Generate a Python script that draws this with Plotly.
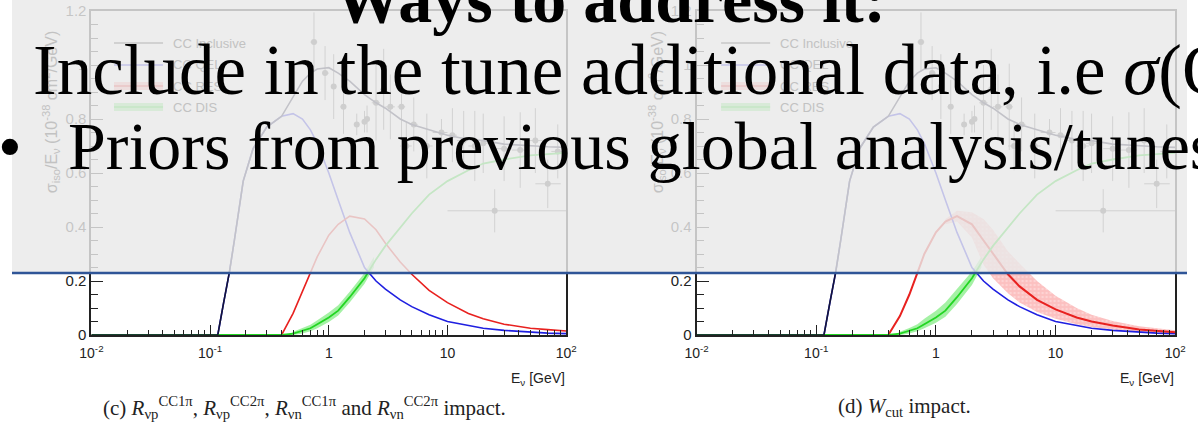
import plotly.graph_objects as go

# ---------------- model curves (sigma/E, 1e-38 cm^2/GeV) ----------------
energy = [0.01, 0.1, 0.116, 0.13, 0.145, 0.16, 0.19, 0.23, 0.3, 0.4, 0.5, 0.6, 0.7, 0.8,
          1.0, 1.2, 1.5, 2, 2.5, 3, 4, 5, 7, 10, 15, 20, 30, 50, 70, 100]
cc_inclusive = [0, 0, 0, 0.12, 0.23, 0.35, 0.57, 0.69, 0.77, 0.81, 0.88, 0.94, 0.97, 0.985,
                0.99, 0.97, 0.94, 0.89, 0.86, 0.84, 0.80, 0.78, 0.76, 0.74, 0.724, 0.72, 0.707, 0.70, 0.697, 0.695]
cc_qel = [0, 0, 0, 0.12, 0.23, 0.35, 0.57, 0.69, 0.77, 0.81, 0.82, 0.80, 0.76, 0.71,
          0.60, 0.50, 0.38, 0.25, 0.20, 0.17, 0.13, 0.105, 0.075, 0.05, 0.034, 0.025, 0.017, 0.01, 0.007, 0.005]
cc_res = [0, 0, 0, 0, 0, 0, 0, 0, 0, 0, 0.08, 0.16, 0.23, 0.29,
          0.37, 0.41, 0.44, 0.43, 0.39, 0.34, 0.27, 0.225, 0.165, 0.12, 0.08, 0.06, 0.04, 0.025, 0.02, 0.015]
cc_dis = [0, 0, 0, 0, 0, 0, 0, 0, 0, 0, 0.005, 0.015, 0.025, 0.04,
          0.065, 0.09, 0.14, 0.21, 0.28, 0.33, 0.40, 0.45, 0.52, 0.57, 0.61, 0.635, 0.65, 0.665, 0.67, 0.675]
# resonance curve with the W_cut variation
cc_res_wcut = [0, 0, 0, 0, 0, 0, 0, 0, 0, 0, 0.07, 0.15, 0.23, 0.30,
               0.38, 0.42, 0.44, 0.41, 0.35, 0.30, 0.225, 0.18, 0.13, 0.095, 0.065, 0.05, 0.035, 0.02, 0.014, 0.01]

# uncertainty bands
dis_band_e = [0.45, 0.5, 0.6, 0.7, 0.8, 1.0, 1.2, 1.5, 2, 2.4]
dis_band_lo_c = [0, 0.0, 0.006, 0.014, 0.025, 0.048, 0.072, 0.12, 0.19, 0.25]
dis_band_hi_c = [0, 0.012, 0.026, 0.038, 0.055, 0.083, 0.11, 0.16, 0.23, 0.29]
dis_band_lo_d = [0, 0.0, 0.006, 0.014, 0.025, 0.045, 0.068, 0.115, 0.185, 0.25]
dis_band_hi_d = [0, 0.012, 0.026, 0.04, 0.06, 0.09, 0.12, 0.17, 0.235, 0.29]
res_band_e = [1.2, 1.5, 2, 2.5, 3, 4, 5, 7, 10, 15, 20, 30, 50, 70, 100]
res_band_lo = [0.41, 0.42, 0.36, 0.26, 0.21, 0.155, 0.12, 0.085, 0.06, 0.04, 0.03, 0.02, 0.012, 0.008, 0.005]
res_band_hi = [0.43, 0.46, 0.455, 0.43, 0.39, 0.31, 0.265, 0.20, 0.145, 0.10, 0.075, 0.052, 0.032, 0.024, 0.018]

# ---------------- measurements ----------------
data_e = [0.75, 0.93, 1.1, 1.33, 1.72, 2.0, 2.1, 2.5, 2.9, 3.3, 4.1, 4.5, 5.2, 6.7, 8.9,
          11, 13.7, 17, 20, 25, 30, 41, 55, 70, 85]
data_sigma = [1.085, 0.97, 0.92, 0.845, 0.78, 0.79, 0.80, 0.86, 0.91, 0.845, 0.845, 0.70, 0.78, 0.70, 0.75,
              0.74, 0.72, 0.70, 0.71, 0.46, 0.69, 0.685, 0.72, 0.56, 0.68]
data_err = [0.11, 0.10, 0.12, 0.10, 0.04, 0.04, 0.05, 0.14, 0.15, 0.12, 0.16, 0.09, 0.10, 0.12, 0.05,
            0.10, 0.11, 0.13, 0.11, 0.08, 0.12, 0.14, 0.12, 0.09, 0.10]
data_e_low = [0.7, 0.88, 1.05, 1.25, 1.65, 1.9, 2.0, 2.3, 2.7, 3.0, 3.8, 4.0, 4.8, 6.0, 7.5,
              10, 12, 15, 18, 10, 25, 35, 45, 55, 75]
data_e_high = [0.8, 1.0, 1.15, 1.4, 1.8, 2.1, 2.2, 2.7, 3.1, 3.6, 4.4, 5.0, 5.6, 7.5, 10,
               12, 15, 19, 22, 100, 35, 48, 65, 90, 100]

x_tickvals = [0.01, 0.1, 1, 10, 100]
x_ticktext = ["10<sup>-2</sup>", "10<sup>-1</sup>", "1", "10", "10<sup>2</sup>"]
y_tickvals = [0, 0.2, 0.4, 0.6, 0.8, 1.0, 1.2]
y_ticktext = ["0", "0.2", "0.4", "0.6", "0.8", "1", "1.2"]
minor_x = [m * 10 ** k for k in (-2, -1, 0, 1) for m in range(2, 10)]

legend_names = ["CC Inclusive", "CC QEL", "CC RES", "CC DIS"]

BLUE = "#1f1fe0"
RED = "#e8211f"
GREEN = "#22d622"
BLACK = "#151535"

W, H = 1198, 431
TOP, BOTTOM = 11, 335


def px(x):
    return x / W


def py(y):
    return (BOTTOM - y) / (BOTTOM - TOP)


fig = go.Figure()


def add_panel(xa, ya, res, res_band, dis_lo, dis_hi):
    # measurements
    fig.add_trace(go.Scatter(
        x=data_e, y=data_sigma, mode="markers", xaxis=xa, yaxis=ya,
        marker=dict(color="#555555", size=6),
        error_y=dict(type="data", array=data_err, color="#666666", thickness=1, width=0),
        error_x=dict(type="data", symmetric=False,
                     array=[h - e for h, e in zip(data_e_high, data_e)],
                     arrayminus=[e - l for e, l in zip(data_e, data_e_low)],
                     color="#666666", thickness=1, width=0),
    ))
    if res_band:
        fig.add_trace(go.Scatter(x=res_band_e, y=res_band_lo, mode="lines", xaxis=xa, yaxis=ya,
                                 line=dict(width=0), hoverinfo="skip"))
        fig.add_trace(go.Scatter(x=res_band_e, y=res_band_hi, mode="lines", xaxis=xa, yaxis=ya,
                                 line=dict(width=0), fill="tonexty",
                                 fillcolor="rgba(250,140,140,0.55)",
                                 fillpattern=dict(shape=".", fgcolor="rgba(255,255,255,0.6)",
                                                  bgcolor="rgba(250,150,150,0.6)", size=4, solidity=0.3),
                                 hoverinfo="skip"))
    fig.add_trace(go.Scatter(x=dis_band_e, y=dis_lo, mode="lines", xaxis=xa, yaxis=ya,
                             line=dict(width=0), hoverinfo="skip"))
    fig.add_trace(go.Scatter(x=dis_band_e, y=dis_hi, mode="lines", xaxis=xa, yaxis=ya,
                             line=dict(width=0), fill="tonexty",
                             fillcolor="rgba(90,230,90,0.55)", hoverinfo="skip"))
    fig.add_trace(go.Scatter(x=energy, y=cc_qel, mode="lines", xaxis=xa, yaxis=ya,
                             line=dict(color=BLUE, width=1.6)))
    fig.add_trace(go.Scatter(x=energy, y=res, mode="lines", xaxis=xa, yaxis=ya,
                             line=dict(color=RED, width=1.6 if not res_band else 2.0)))
    fig.add_trace(go.Scatter(x=energy, y=cc_dis, mode="lines", xaxis=xa, yaxis=ya,
                             line=dict(color=GREEN, width=1.8)))
    fig.add_trace(go.Scatter(x=energy, y=cc_inclusive, mode="lines", xaxis=xa, yaxis=ya,
                             line=dict(color=BLACK, width=1.6)))


add_panel("x", "y", cc_res, False, dis_band_lo_c, dis_band_hi_c)
add_panel("x2", "y2", cc_res_wcut, True, dis_band_lo_d, dis_band_hi_d)

xaxis_style = dict(
    type="log", range=[-2, 2], tickvals=x_tickvals, ticktext=x_ticktext,
    ticks="inside", ticklen=10, tickwidth=1, tickcolor="#222",
    minor=dict(tickvals=minor_x, ticks="inside", ticklen=5, tickcolor="#222"),
    showline=True, linecolor="#222", linewidth=1.5, mirror=True,
    showgrid=False, zeroline=False, ticklabelstandoff=4,
    tickfont=dict(family="Liberation Sans", size=14, color="#222"),
)
yaxis_style = dict(
    range=[0, 1.2], tickvals=y_tickvals, ticktext=y_ticktext,
    ticks="inside", ticklen=12, tickwidth=1.2, tickcolor="#222",
    minor=dict(dtick=0.05, ticks="inside", ticklen=7, tickcolor="#222"),
    showline=True, linecolor="#222", linewidth=2, mirror=True,
    showgrid=False, zeroline=False,
    tickfont=dict(family="Liberation Sans", size=15, color="#222"),
)

fig.update_layout(
    width=W, height=H,
    margin=dict(l=0, r=0, t=TOP, b=H - BOTTOM),
    paper_bgcolor="white", plot_bgcolor="white",
    showlegend=False,
    xaxis=dict(domain=[px(81), px(565)], anchor="y", **xaxis_style),
    yaxis=dict(domain=[0, 1], anchor="x", **yaxis_style),
    xaxis2=dict(domain=[px(698), px(1186)], anchor="y2", **xaxis_style),
    yaxis2=dict(domain=[0, 1], anchor="x2", **yaxis_style),
)

shapes = []
annotations = []
FADED = "#c2c2c2"

# legends of both panels
for x0 in (104, 723):
    rows = [43, 65, 86, 107]
    styles = [
        [("#333", 1.5)],
        [(BLUE, 1.5)],
        [("rgba(250,140,140,0.7)", 8), (RED, 1.5)],
        [("rgba(90,230,90,0.7)", 8), (GREEN, 1.5)],
    ]
    for r, st in zip(rows, styles):
        for color, width in st:
            shapes.append(dict(type="line", xref="paper", yref="paper", x0=px(x0), x1=px(x0 + 50),
                               y0=py(r), y1=py(r), line=dict(color=color, width=width), layer="above"))
    for name, r in zip(legend_names, rows):
        annotations.append(dict(text=name, xref="paper", yref="paper", x=px(x0 + 58), y=py(r),
                                xanchor="left", yanchor="middle", showarrow=False,
                                font=dict(family="Liberation Sans", size=13, color=FADED)))

# y-axis titles
for xc in (40, 658):
    annotations.append(dict(
        text="σ<sub>iso</sub>/E<sub>ν</sub> (10<sup>-38</sup> cm<sup>2</sup>/GeV)",
        xref="paper", yref="paper", x=px(xc), y=py(112), textangle=-90,
        xanchor="center", yanchor="middle", showarrow=False,
        font=dict(family="Liberation Sans", size=16, color=FADED)))

# translucent slide panel and its rule
shapes.append(dict(type="rect", xref="paper", yref="paper", x0=0, x1=1, y0=py(272), y1=py(-5),
                   fillcolor="rgba(233,233,233,0.82)", line=dict(width=0), layer="above"))
shapes.append(dict(type="line", xref="paper", yref="paper", x0=0, x1=1, y0=py(273), y1=py(273),
                   line=dict(color="#2f5597", width=2.5), layer="above"))

# x-axis titles
for xr in (566, 1187):
    annotations.append(dict(text="E<sub>ν</sub> [GeV]", xref="paper", yref="paper",
                            x=px(xr), y=py(379), xanchor="right", yanchor="middle", showarrow=False,
                            font=dict(family="Liberation Sans", size=14, color="#222")))

# sub-figure captions
annotations.append(dict(
    text="(c) <i>R</i><sub>νp</sub><sup>CC1π</sup>, <i>R</i><sub>νp</sub><sup>CC2π</sup>, "
         "<i>R</i><sub>νn</sub><sup>CC1π</sup> and <i>R</i><sub>νn</sub><sup>CC2π</sup> impact.",
    xref="paper", yref="paper", x=px(298), y=py(407), xanchor="center", yanchor="middle",
    showarrow=False, font=dict(family="Liberation Serif", size=21, color="#222")))
annotations.append(dict(
    text="(d) <i>W</i><sub>cut</sub> impact.",
    xref="paper", yref="paper", x=px(910), y=py(407), xanchor="center", yanchor="middle",
    showarrow=False, font=dict(family="Liberation Serif", size=21, color="#222")))

# slide text
SLIDE_FONT = "Liberation Serif"
annotations.append(dict(text="<b>Ways to address it:</b>", xref="paper", yref="paper",
                        x=px(610), y=py(-1), xanchor="center", yanchor="middle", showarrow=False,
                        font=dict(family=SLIDE_FONT, size=68, color="black")))
annotations.append(dict(text="Include in the tune additional data, i.e <i>σ</i>(Q<sup>2</sup>)",
                        xref="paper", yref="paper", x=px(19), y=py(65), xanchor="left",
                        yanchor="middle", showarrow=False,
                        font=dict(family=SLIDE_FONT, size=71, color="black")))
annotations.append(dict(text="•", xref="paper", yref="paper", x=px(-16), y=py(146), xanchor="left",
                        yanchor="middle", showarrow=False,
                        font=dict(family=SLIDE_FONT, size=68, color="black")))
annotations.append(dict(text="Priors from previous global analysis/tunes", xref="paper", yref="paper",
                        x=px(55), y=py(146), xanchor="left", yanchor="middle", showarrow=False,
                        font=dict(family=SLIDE_FONT, size=68, color="black")))

fig.update_layout(shapes=shapes, annotations=annotations)
fig.write_html("out.html")
